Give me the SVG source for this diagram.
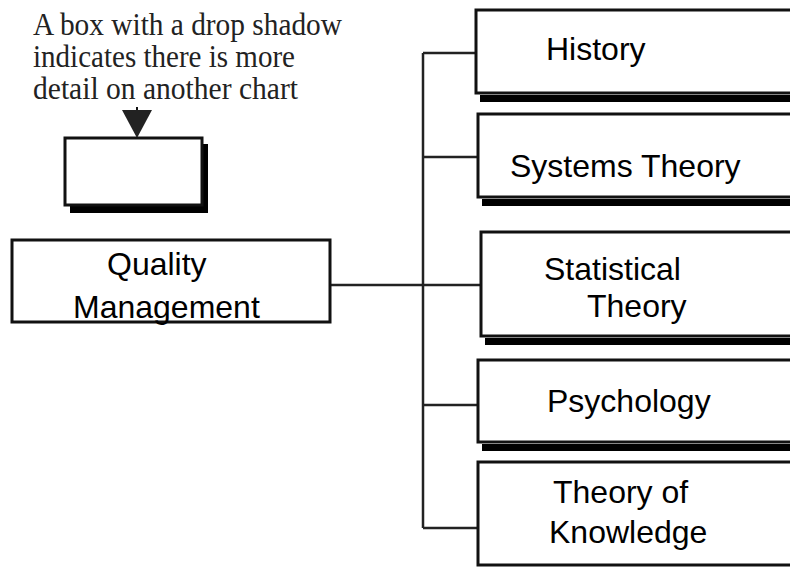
<svg xmlns="http://www.w3.org/2000/svg" width="790" height="567" viewBox="0 0 790 567">
<style>
.box{fill:#fff;stroke:#111;stroke-width:3}
.sh{fill:#000}
.lbl{font-family:"Liberation Sans",Arial,sans-serif;font-size:32px;fill:#000}
.note{font-family:"Liberation Serif","Times New Roman",serif;font-size:31px;fill:#222}
.con{stroke:#222;stroke-width:2.5;fill:none}
</style>
<rect width="790" height="567" fill="#fff"/>
<g id="legend">
<text class="note" x="33" y="35" textLength="309" lengthAdjust="spacingAndGlyphs">A box with a drop shadow</text>
<text class="note" x="33" y="67" textLength="262" lengthAdjust="spacingAndGlyphs">indicates there is more</text>
<text class="note" x="33" y="99" textLength="265" lengthAdjust="spacingAndGlyphs">detail on another chart</text>
<line x1="137" y1="107" x2="137" y2="112" stroke="#111" stroke-width="2"/>
<polygon points="122,110 152,110 137,138" fill="#222"/>
<rect class="sh" x="70" y="144" width="138" height="69"/>
<rect class="box" x="65" y="138" width="137" height="67"/>
</g>
<g id="connectors">
<line class="con" x1="330" y1="285" x2="481" y2="285"/>
<line class="con" x1="423" y1="53" x2="423" y2="528"/>
<line class="con" x1="423" y1="53" x2="476" y2="53"/>
<line class="con" x1="423" y1="157" x2="478" y2="157"/>
<line class="con" x1="423" y1="405" x2="478" y2="405"/>
<line class="con" x1="423" y1="528" x2="478" y2="528"/>
</g>
<g id="quality-management">
<rect class="box" x="12" y="240" width="318" height="82"/>
<text class="lbl" x="107" y="275">Quality</text>
<text class="lbl" x="73" y="318">Management</text>
</g>
<g id="history">
<rect class="sh" x="480" y="95" width="320" height="7"/>
<rect class="box" x="476" y="10" width="330" height="83"/>
<text class="lbl" x="546" y="60">History</text>
</g>
<g id="systems-theory">
<rect class="sh" x="482" y="199" width="320" height="7"/>
<rect class="box" x="478" y="114" width="330" height="83"/>
<text class="lbl" x="510" y="177">Systems Theory</text>
</g>
<g id="statistical-theory">
<rect class="sh" x="485" y="338" width="320" height="7"/>
<rect class="box" x="481" y="232" width="330" height="104"/>
<text class="lbl" x="544" y="280">Statistical</text>
<text class="lbl" x="587" y="317">Theory</text>
</g>
<g id="psychology">
<rect class="sh" x="482" y="444" width="320" height="7"/>
<rect class="box" x="478" y="360" width="330" height="82"/>
<text class="lbl" x="547" y="412">Psychology</text>
</g>
<g id="theory-of-knowledge">
<rect class="box" x="478" y="462" width="330" height="103"/>
<text class="lbl" x="553" y="503">Theory of</text>
<text class="lbl" x="549" y="543">Knowledge</text>
</g>
</svg>
